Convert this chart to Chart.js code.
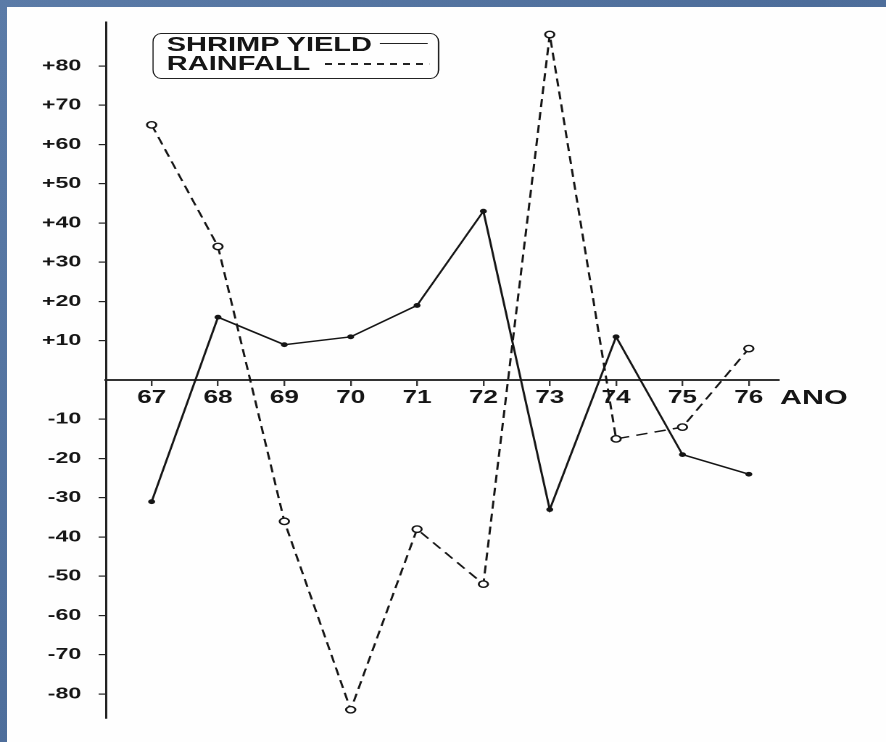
<!DOCTYPE html>
<html>
<head>
<meta charset="utf-8">
<title>Shrimp yield and rainfall</title>
<script src="https://cdn.jsdelivr.net/npm/chart.js"></script>
<style>
  html, body { margin: 0; padding: 0; }
  body {
    width: 886px; height: 742px; overflow: hidden; position: relative;
    background: linear-gradient(135deg, #5b7ba7 0%, #4d6d9a 50%, #5878a4 100%);
  }
  .paper { position: absolute; left: 7px; top: 7px; right: 0; bottom: 0; background: #fefefe; }
  /* the scanned figure is stretched sideways, so the whole drawing gets the same stretch */
  .stage { position: absolute; left: 0; top: 0; width: 611px; height: 742px; transform: scaleX(1.45); transform-origin: 0 0; }
  #chart { position: absolute; left: 0; top: 0; width: 611px; height: 742px; }
  .legend-box {
    position: absolute; left: 105px; top: 33px; width: 198px; height: 46px;
    box-sizing: border-box; border: 1.5px solid #222; border-radius: 6px / 9px;
  }
  .txt {
    position: absolute; font-family: "Liberation Sans", Arial, sans-serif; font-weight: bold;
    color: #151515; white-space: nowrap; line-height: 1;
  }
  .solid { position: absolute; height: 1.5px; background: #222; }
  .dashed { position: absolute; height: 1.5px; background: repeating-linear-gradient(90deg, #222 0 5px, transparent 5px 9px); }
</style>
</head>
<body>
<div class="paper"></div>
<div class="stage">
  <canvas id="chart" width="611" height="742"></canvas>
  <div class="legend-box"></div>
  <div class="txt" style="left:115px; top:34px; font-size:20px;">SHRIMP YIELD</div>
  <div class="solid" style="left:262px; top:42.5px; width:33px;"></div>
  <div class="txt" style="left:115px; top:53px; font-size:20px;">RAINFALL</div>
  <div class="dashed" style="left:224px; top:63px; width:72px;"></div>
  <div class="txt" style="left:538px; top:385.5px; font-size:21px;">ANO</div>
</div>
<script>
const years = [67, 68, 69, 70, 71, 72, 73, 74, 75, 76];
const shrimpYield = [-31, 16, 9, 11, 19, 43, -33, 11, -19, -24];
const rainfall = [65, 34, -36, -84, -38, -52, 88, -15, -12, 8];
const yTicks = [-80, -70, -60, -50, -40, -30, -20, -10, 10, 20, 30, 40, 50, 60, 70, 80];

const font = '"Liberation Sans", Arial, sans-serif';
const ink = '#151515';

const ctx = document.getElementById('chart').getContext('2d');
new Chart(ctx, {
  type: 'line',
  data: {
    datasets: [{
      label: 'SHRIMP YIELD',
      data: years.map((x, i) => ({ x: x, y: shrimpYield[i] })),
      borderColor: ink,
      borderWidth: 1.5,
      pointRadius: 2.4,
      pointBackgroundColor: ink,
      pointBorderWidth: 0,
      tension: 0,
      clip: false
    }, {
      label: 'RAINFALL',
      data: years.map((x, i) => ({ x: x, y: rainfall[i] })),
      borderColor: ink,
      borderWidth: 1.5,
      borderDash: [8, 5],
      pointRadius: 3.2,
      pointBackgroundColor: '#fff',
      pointBorderColor: ink,
      pointBorderWidth: 1.4,
      tension: 0,
      clip: false
    }]
  },
  options: {
    responsive: false,
    devicePixelRatio: 2,
    animation: false,
    layout: { padding: { left: 0, top: 22, right: 74, bottom: 24 } },
    plugins: { legend: { display: false }, tooltip: { enabled: false } },
    scales: {
      x: {
        type: 'linear',
        position: { y: 0 },
        min: 66.31,
        max: 76.45,
        afterBuildTicks: s => { s.ticks = years.map(v => ({ value: v })); },
        afterFit: s => { s.height = 0; },
        grid: { drawOnChartArea: false, tickLength: 5, color: '#333', lineWidth: 1.2 },
        border: { color: '#333', width: 2 },
        ticks: {
          autoSkip: false,
          maxRotation: 0,
          padding: 2,
          color: ink,
          font: { family: font, size: 18, weight: 'bold' },
          callback: v => String(v)
        }
      },
      y: {
        min: -86.1,
        max: 91.2,
        afterBuildTicks: s => { s.ticks = yTicks.map(v => ({ value: v })); },
        afterFit: s => { s.width = 73; },
        grid: { drawOnChartArea: false, tickLength: 5, color: '#222', lineWidth: 1.2 },
        border: { color: '#222', width: 1.5 },
        ticks: {
          padding: 12,
          color: ink,
          font: { family: font, size: 16, weight: 'bold' },
          callback: v => (v > 0 ? '+' + v : String(v))
        }
      }
    }
  }
});
</script>
</body>
</html>
